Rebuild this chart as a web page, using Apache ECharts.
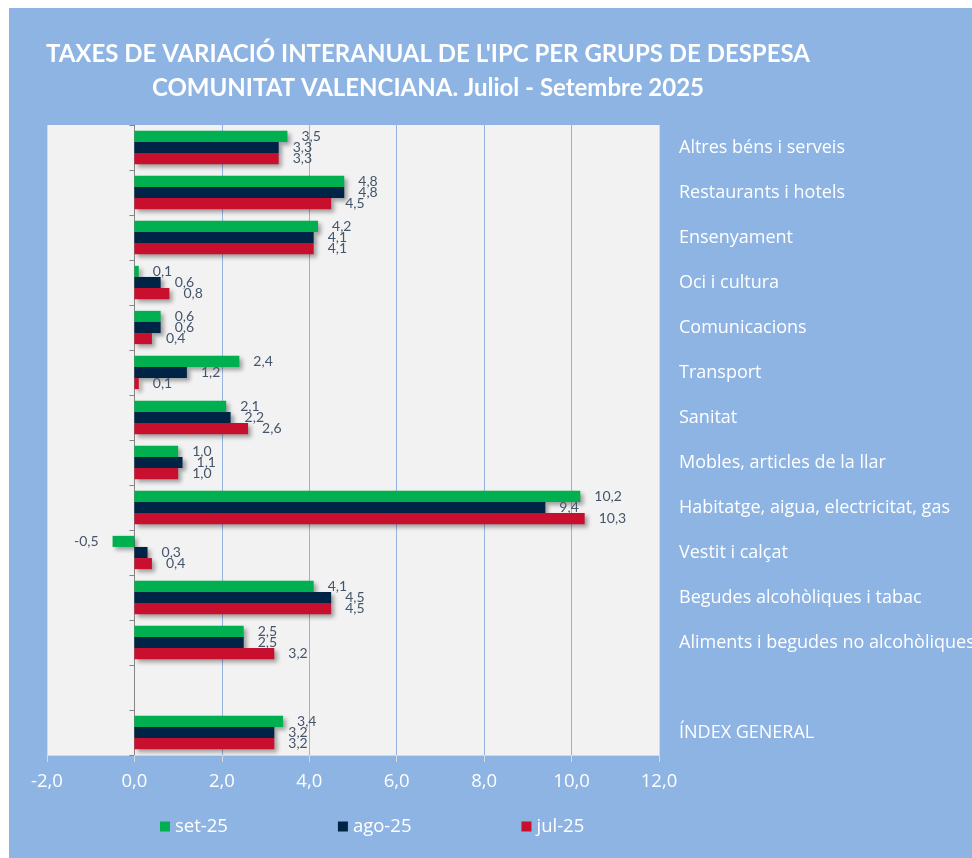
<!DOCTYPE html>
<html>
<head>
<meta charset="utf-8">
<title>IPC per grups de despesa</title>
<script src="https://cdn.jsdelivr.net/npm/echarts@6/dist/echarts.min.js"></script>
<style>
body{margin:0;background:#fff;}
#main{position:absolute;left:9px;top:8px;width:963px;height:850px;}
</style>
</head>
<body>
<div id="main"></div>
<script>
// grups de despesa, de dalt a baix (el buit separa l'índex general)
var categories = ['Altres béns i serveis', 'Restaurants i hotels', 'Ensenyament', 'Oci i cultura',
	'Comunicacions', 'Transport', 'Sanitat', 'Mobles, articles de la llar',
	'Habitatge, aigua, electricitat, gas', 'Vestit i calçat', 'Begudes alcohòliques i tabac',
	'Aliments i begudes no alcohòliques', '', 'ÍNDEX GENERAL'];
var set25 = [3.5, 4.8, 4.2, 0.1, 0.6, 2.4, 2.1, 1.0, 10.2, -0.5, 4.1, 2.5, null, 3.4];
var ago25 = [3.3, 4.8, 4.1, 0.6, 0.6, 1.2, 2.2, 1.1, 9.4, 0.3, 4.5, 2.5, null, 3.2];
var jul25 = [3.3, 4.5, 4.1, 0.8, 0.4, 0.1, 2.6, 1.0, 10.3, 0.4, 4.5, 3.2, null, 3.2];
var xTicks = [-2, 0, 2, 4, 6, 8, 10, 12];

var font = 'Lato, "Open Sans", sans-serif';
var font2 = '"Open Sans", Lato, sans-serif';

function fmt(v){ return v.toFixed(1).replace('.', ','); }

function serie(name, color, values){
	return {
		name: name,
		type: 'bar',
		barCategoryGap: '26%',
		barGap: '0%',
		itemStyle: {
			color: color,
			shadowColor: 'rgba(0,0,0,0.35)',
			shadowBlur: 4,
			shadowOffsetX: 3,
			shadowOffsetY: 3
		},
		label: {
			show: true,
			position: 'right',
			distance: 14,
			color: '#44546A',
			fontFamily: font,
			fontSize: 14,
			formatter: function(p){ return fmt(p.value); }
		},
		data: values.map(function(v){
			if (v === null) return '-';
			if (v < 0) return {value: v, label: {position: 'left'}};
			return v;
		})
	};
}

var chart = echarts.init(document.getElementById('main'));
chart.setOption({
	backgroundColor: '#8EB4E3',
	animation: false,
	title: {
		text: "TAXES DE VARIACIÓ INTERANUAL DE L'IPC PER GRUPS DE DESPESA\nCOMUNITAT VALENCIANA. Juliol - Setembre 2025",
		left: 414,
		top: 24,
		textAlign: 'center',
		textStyle: {color: '#fff', fontFamily: font, fontWeight: 'bold', fontSize: 24, lineHeight: 34}
	},
	legend: {
		left: 146,
		top: 804,
		itemWidth: 10,
		itemHeight: 10,
		itemGap: 110,
		icon: 'rect',
		textStyle: {color: '#fff', fontFamily: font2, fontSize: 18.5},
		data: ['set-25', 'ago-25', 'jul-25']
	},
	grid: {
		left: 38, top: 117, width: 612, height: 630,
		outerBoundsMode: 'none',
		containLabel: false,
		show: true, backgroundColor: '#F2F2F2', borderWidth: 0
	},
	xAxis: {
		type: 'value',
		min: xTicks[0],
		max: xTicks[xTicks.length - 1],
		interval: 2,
		axisLine: {show: true, lineStyle: {color: '#D9D9D9'}},
		axisTick: {show: true, length: 7, lineStyle: {color: '#D9D9D9'}},
		axisLabel: {color: '#fff', fontFamily: font2, fontSize: 18.5, margin: 17, formatter: fmt},
		splitLine: {show: true, lineStyle: {color: ['#D9D9D9', '#95B3DE', '#95B3DE', '#95B3DE', '#95B3DE', '#95B3DE', '#95B3DE', '#D9D9D9']}}
	},
	yAxis: [{
		type: 'category',
		inverse: true,
		data: categories,
		axisLine: {show: true, onZero: true, lineStyle: {color: '#868686'}},
		axisTick: {show: true, length: 5, lineStyle: {color: '#868686'}},
		axisLabel: {show: false}
	}, {
		type: 'category',
		inverse: true,
		position: 'right',
		data: categories,
		axisLine: {show: false, onZero: false},
		axisTick: {show: false},
		axisLabel: {color: '#fff', fontFamily: font2, fontSize: 18, margin: 20, align: 'left'}
	}],
	series: [
		serie('set-25', '#00B050', set25),
		serie('ago-25', '#002446', ago25),
		serie('jul-25', '#C8102E', jul25)
	]
});
</script>
</body>
</html>
